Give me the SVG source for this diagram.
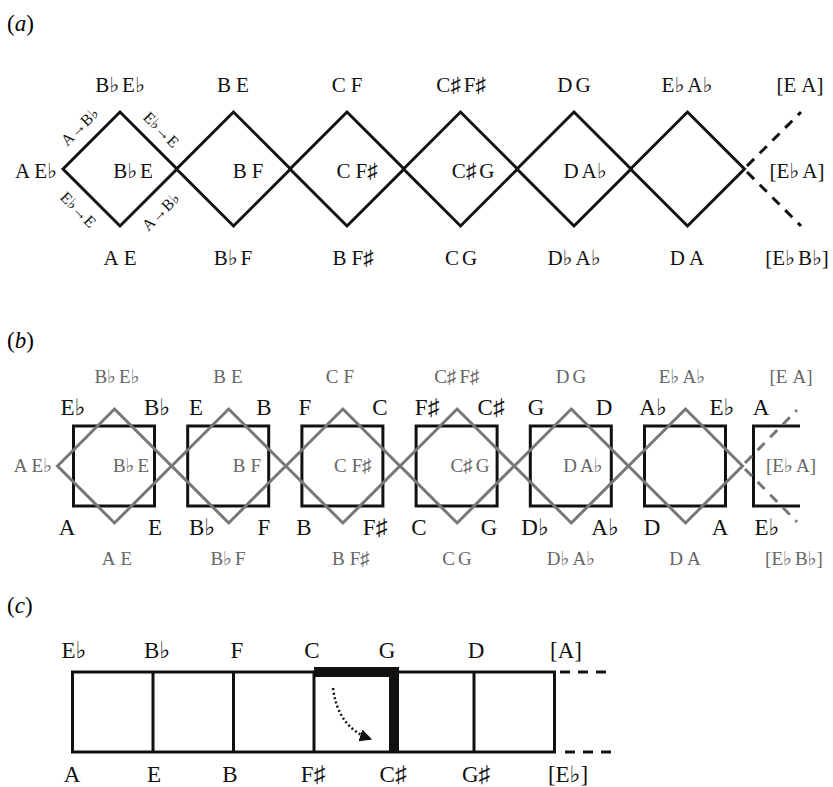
<svg xmlns="http://www.w3.org/2000/svg" width="833" height="787" viewBox="0 0 833 787">
<defs>
<style>
text{font-family:"Liberation Serif","DejaVu Sans",serif;text-anchor:middle}
.pl{font-size:23px;text-anchor:start}
.la{font-size:21px;fill:#111}
.le{font-size:16px;fill:#111}
.lg{font-size:19px;fill:#666}
.lb{font-size:23px;fill:#111}
.ln{fill:none;stroke:#111;stroke-width:3}
.gd{fill:none;stroke:#777;stroke-width:3}
.ds{fill:none;stroke:#111;stroke-width:3;stroke-dasharray:10 8}
.gds{fill:none;stroke:#777;stroke-width:3;stroke-dasharray:10 8}
</style>
<marker id="ah" viewBox="0 0 10 10" refX="9" refY="5" markerWidth="5" markerHeight="5" orient="auto"><path d="M0,0 L10,5 L0,10 z" fill="#111"/></marker>
</defs>
<rect width="833" height="787" fill="#fff"/>

<g id="panel-labels">
<text class="pl" x="7" y="31">(<tspan font-style="italic">a</tspan>)</text>
<text class="pl" x="7" y="348">(<tspan font-style="italic">b</tspan>)</text>
<text class="pl" x="7" y="613">(<tspan font-style="italic">c</tspan>)</text>
</g>

<!-- Panel a -->
<g id="a-connectors">
<polygon class="ln" points="63,169 120,112 177,169 120,226"/>
<polygon class="ln" points="176.5,169 233.5,112 290.5,169 233.5,226"/>
<polygon class="ln" points="290,169 347,112 404,169 347,226"/>
<polygon class="ln" points="403.5,169 460.5,112 517.5,169 460.5,226"/>
<polygon class="ln" points="517,169 574,112 631,169 574,226"/>
<polygon class="ln" points="630.5,169 687.5,112 744.5,169 687.5,226"/>
<path class="ds" d="M747,166 L801,112 M747,172 L801,226"/>
</g>
<g id="a-nodes" class="la">
<text x="120" y="92">B♭<tspan dx="3">E♭</tspan></text>
<text x="233" y="92">B<tspan dx="5">E</tspan></text>
<text x="347" y="92">C<tspan dx="5">F</tspan></text>
<text x="461" y="92">C♯<tspan dx="3">F♯</tspan></text>
<text x="574" y="92">D<tspan dx="3">G</tspan></text>
<text x="687" y="92">E♭<tspan dx="3">A♭</tspan></text>
<text x="800" y="92">[E<tspan dx="5">A</tspan>]</text>
<text x="36" y="178">A<tspan dx="4">E♭</tspan></text>
<text x="133" y="178">B♭<tspan dx="3">E</tspan></text>
<text x="248" y="178">B<tspan dx="5">F</tspan></text>
<text x="357" y="178">C<tspan dx="5">F♯</tspan></text>
<text x="473" y="178">C♯<tspan dx="3">G</tspan></text>
<text x="585" y="178">D<tspan dx="3">A♭</tspan></text>
<text x="797" y="178">[E♭<tspan dx="3">A</tspan>]</text>
<text x="120" y="265">A<tspan dx="5">E</tspan></text>
<text x="233" y="265">B♭<tspan dx="3">F</tspan></text>
<text x="353" y="265">B<tspan dx="5">F♯</tspan></text>
<text x="461" y="265">C<tspan dx="3">G</tspan></text>
<text x="574" y="265">D♭<tspan dx="3">A♭</tspan></text>
<text x="687" y="265">D<tspan dx="4">A</tspan></text>
<text x="797" y="265">[E♭<tspan dx="3">B♭</tspan>]</text>
</g>
<g id="a-edge-labels" class="le">
<text transform="translate(80,127) rotate(-45)" y="5">A→B♭</text>
<text transform="translate(161,130) rotate(45)" y="5">E♭→E</text>
<text transform="translate(78,210) rotate(45)" y="5">E♭→E</text>
<text transform="translate(161,212) rotate(-45)" y="5">A→B♭</text>
</g>

<!-- Panel b -->
<g id="b-squares">
<rect class="ln" x="73.5" y="426" width="81" height="80"/>
<rect class="ln" x="187.7" y="426" width="81" height="80"/>
<rect class="ln" x="301.9" y="426" width="81" height="80"/>
<rect class="ln" x="416.1" y="426" width="81" height="80"/>
<rect class="ln" x="530.3" y="426" width="81" height="80"/>
<rect class="ln" x="644.5" y="426" width="81" height="80"/>
<path class="ln" d="M800,426 H753.5 V506 H800"/>
</g>
<g id="b-connectors">
<polygon class="gd" points="57.5,466 114.5,409 171.5,466 114.5,523"/>
<polygon class="gd" points="171.7,466 228.7,409 285.7,466 228.7,523"/>
<polygon class="gd" points="285.9,466 342.9,409 399.9,466 342.9,523"/>
<polygon class="gd" points="400.1,466 457.1,409 514.1,466 457.1,523"/>
<polygon class="gd" points="514.3,466 571.3,409 628.3,466 571.3,523"/>
<polygon class="gd" points="628.5,466 685.5,409 742.5,466 685.5,523"/>
<path class="gds" d="M745,463 L797,410 M745,469 L797,522"/>
</g>
<g id="b-gray-nodes" class="lg">
<text x="117" y="383">B♭<tspan dx="3">E♭</tspan></text>
<text x="228" y="383">B<tspan dx="5">E</tspan></text>
<text x="340" y="383">C<tspan dx="5">F</tspan></text>
<text x="457" y="383">C♯<tspan dx="3">F♯</tspan></text>
<text x="571" y="383">D<tspan dx="3">G</tspan></text>
<text x="682" y="383">E♭<tspan dx="3">A♭</tspan></text>
<text x="791" y="383">[E<tspan dx="5">A</tspan>]</text>
<text x="33" y="472">A<tspan dx="4">E♭</tspan></text>
<text x="131" y="472">B♭<tspan dx="3">E</tspan></text>
<text x="247" y="472">B<tspan dx="5">F</tspan></text>
<text x="353" y="472">C<tspan dx="5">F♯</tspan></text>
<text x="470" y="472">C♯<tspan dx="3">G</tspan></text>
<text x="583" y="472">D<tspan dx="3">A♭</tspan></text>
<text x="791" y="472">[E♭<tspan dx="3">A</tspan>]</text>
<text x="117" y="565">A<tspan dx="5">E</tspan></text>
<text x="228" y="565">B♭<tspan dx="3">F</tspan></text>
<text x="351" y="565">B<tspan dx="5">F♯</tspan></text>
<text x="457" y="565">C<tspan dx="3">G</tspan></text>
<text x="571" y="565">D♭<tspan dx="3">A♭</tspan></text>
<text x="685" y="565">D<tspan dx="4">A</tspan></text>
<text x="794" y="565">[E♭<tspan dx="3">B♭</tspan>]</text>
</g>
<g id="b-black-nodes" class="lb">
<text x="73" y="415">E♭</text>
<text x="157" y="415">B♭</text>
<text x="196" y="415">E</text>
<text x="264" y="415">B</text>
<text x="305" y="415">F</text>
<text x="380" y="415">C</text>
<text x="427" y="415">F♯</text>
<text x="491" y="415">C♯</text>
<text x="536" y="415">G</text>
<text x="604" y="415">D</text>
<text x="653" y="415">A♭</text>
<text x="722" y="415">E♭</text>
<text x="761" y="415">A</text>
<text x="67" y="535">A</text>
<text x="155" y="535">E</text>
<text x="202" y="535">B♭</text>
<text x="264" y="535">F</text>
<text x="304" y="535">B</text>
<text x="375" y="535">F♯</text>
<text x="419" y="535">C</text>
<text x="489" y="535">G</text>
<text x="535" y="535">D♭</text>
<text x="605" y="535">A♭</text>
<text x="652" y="535">D</text>
<text x="720" y="535">A</text>
<text x="767" y="535">E♭</text>
</g>

<!-- Panel c -->
<g id="c-grid">
<rect class="ln" x="72.5" y="672" width="482" height="80"/>
<path class="ln" d="M153,672 V752 M233.5,672 V752 M314,672 V752 M474,672 V752"/>
<path class="ds" d="M560,672 H612 M565,752 H617"/>
<path d="M314,672 H394 V752" fill="none" stroke="#111" stroke-width="10" stroke-linejoin="miter"/>
</g>
<g id="c-connectors">
<path d="M333,688 Q338,728 371,739" fill="none" stroke="#111" stroke-width="2.5" stroke-dasharray="2 2.5" marker-end="url(#ah)"/>
</g>
<g id="c-nodes" class="lb">
<text x="74" y="658">E♭</text>
<text x="157" y="658">B♭</text>
<text x="237" y="658">F</text>
<text x="312" y="658">C</text>
<text x="387" y="658">G</text>
<text x="476" y="658">D</text>
<text x="566" y="658">[A]</text>
<text x="72" y="782">A</text>
<text x="154" y="782">E</text>
<text x="230" y="782">B</text>
<text x="313" y="782">F♯</text>
<text x="393" y="782">C♯</text>
<text x="476" y="782">G♯</text>
<text x="568" y="782">[E♭]</text>
</g>
</svg>
